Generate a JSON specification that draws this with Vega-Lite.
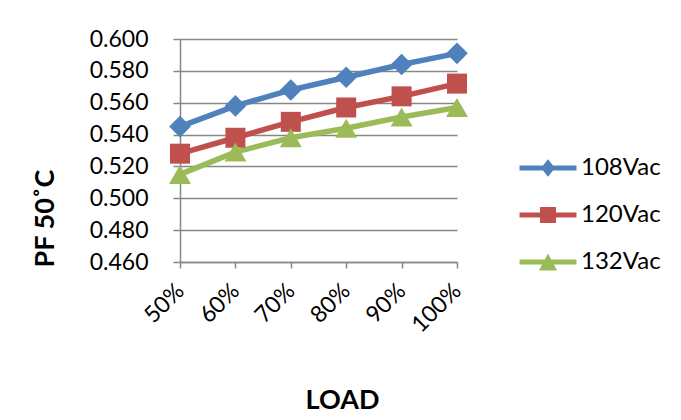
{
  "$schema": "https://vega.github.io/schema/vega-lite/v6.json",
  "width": 277,
  "height": 223,
  "autosize": {"type": "none"},
  "padding": {"left": 180, "top": 39, "right": 224, "bottom": 158},
  "background": "white",
  "config": {"view": {"stroke": null}, "font": "Lato"},
  "data": {
    "values": [
      {"load": "50%", "series": "108Vac", "pf": 0.545},
      {"load": "60%", "series": "108Vac", "pf": 0.558},
      {"load": "70%", "series": "108Vac", "pf": 0.568},
      {"load": "80%", "series": "108Vac", "pf": 0.576},
      {"load": "90%", "series": "108Vac", "pf": 0.584},
      {"load": "100%", "series": "108Vac", "pf": 0.591},
      {"load": "50%", "series": "120Vac", "pf": 0.528},
      {"load": "60%", "series": "120Vac", "pf": 0.538},
      {"load": "70%", "series": "120Vac", "pf": 0.548},
      {"load": "80%", "series": "120Vac", "pf": 0.557},
      {"load": "90%", "series": "120Vac", "pf": 0.564},
      {"load": "100%", "series": "120Vac", "pf": 0.572},
      {"load": "50%", "series": "132Vac", "pf": 0.515},
      {"load": "60%", "series": "132Vac", "pf": 0.529},
      {"load": "70%", "series": "132Vac", "pf": 0.538},
      {"load": "80%", "series": "132Vac", "pf": 0.544},
      {"load": "90%", "series": "132Vac", "pf": 0.551},
      {"load": "100%", "series": "132Vac", "pf": 0.557}
    ]
  },
  "encoding": {
    "x": {
      "field": "load",
      "type": "ordinal",
      "sort": ["50%", "60%", "70%", "80%", "90%", "100%"],
      "scale": {"type": "point", "padding": 0},
      "axis": {
        "title": "LOAD",
        "titleFont": "Lato",
        "titleFontSize": 27,
        "titleFontWeight": "bold",
        "titleColor": "black",
        "titleX": 162,
        "titleY": 138,
        "titleAlign": "center",
        "titleBaseline": "middle",
        "labelAngle": -45,
        "labelAlign": "right",
        "labelBaseline": "middle",
        "labelFont": "Lato",
        "labelFontSize": 23,
        "labelColor": "black",
        "labelPadding": 19,
        "labelOverlap": false,
        "labelBound": false,
        "tickSize": 6,
        "tickColor": "#868686",
        "tickWidth": 1.5,
        "domainColor": "#868686",
        "domainWidth": 1.5,
        "grid": false
      }
    },
    "y": {
      "field": "pf",
      "type": "quantitative",
      "scale": {"domain": [0.46, 0.6], "nice": false, "zero": false},
      "axis": {
        "title": "PF  50˚C",
        "titleFont": "Lato",
        "titleFontSize": 27,
        "titleFontWeight": "bold",
        "titleColor": "black",
        "titleAngle": -90,
        "titleX": -135,
        "titleY": 179,
        "titleAlign": "center",
        "titleBaseline": "middle",
        "values": [0.46, 0.48, 0.5, 0.52, 0.54, 0.56, 0.58, 0.6],
        "format": ".3f",
        "labelFont": "Lato",
        "labelFontSize": 23,
        "labelColor": "black",
        "labelPadding": 25,
        "tickSize": 7,
        "tickColor": "#868686",
        "tickWidth": 1.5,
        "domainColor": "#868686",
        "domainWidth": 1.5,
        "grid": true,
        "gridColor": "#868686",
        "gridWidth": 1.3
      }
    },
    "color": {
      "field": "series",
      "type": "nominal",
      "scale": {"domain": ["108Vac", "120Vac", "132Vac"], "range": ["#4F81BD", "#C0504D", "#9BBB59"]},
      "legend": {
        "title": null,
        "orient": "none",
        "legendX": 354,
        "legendY": 115,
        "padding": 0,
        "symbolSize": 756,
        "symbolStrokeWidth": 0,
        "symbolOpacity": 1,
        "labelFont": "Lato",
        "labelFontSize": 24,
        "labelColor": "black",
        "labelOffset": 19,
        "rowPadding": 21,
        "encode": {
          "symbols": {
            "update": {
              "shape": {"signal": "datum.value == '108Vac' ? 'M-2.07,-0.18L2.07,-0.18L2.07,0.18L-2.07,0.18Z M0,-0.63L0.51,0L0,0.63L-0.51,0Z' : datum.value == '120Vac' ? 'M-2.07,-0.18L2.07,-0.18L2.07,0.18L-2.07,0.18Z M-0.58,-0.58L0.58,-0.58L0.58,0.58L-0.58,0.58Z' : 'M-2.07,-0.18L2.07,-0.18L2.07,0.18L-2.07,0.18Z M0,-0.62L0.66,0.62L-0.66,0.62Z'"},
              "fill": {"signal": "datum.value == '108Vac' ? '#4F81BD' : datum.value == '120Vac' ? '#C0504D' : '#9BBB59'"},
              "stroke": {"value": "transparent"},
              "opacity": {"value": 1}
            }
          }
        }
      }
    }
  },
  "layer": [
    {"mark": {"type": "line", "strokeWidth": 5.5, "strokeJoin": "round"}},
    {
      "transform": [{"filter": "datum.series == '108Vac'"}],
      "mark": {"type": "point", "filled": true, "opacity": 1, "size": 470, "shape": "diamond"}
    },
    {
      "transform": [{"filter": "datum.series == '120Vac'"}],
      "mark": {"type": "point", "filled": true, "opacity": 1, "size": 400, "shape": "square"}
    },
    {
      "transform": [{"filter": "datum.series == '132Vac'"}],
      "mark": {"type": "point", "filled": true, "opacity": 1, "size": 480, "shape": "triangle-up"}
    }
  ]
}
